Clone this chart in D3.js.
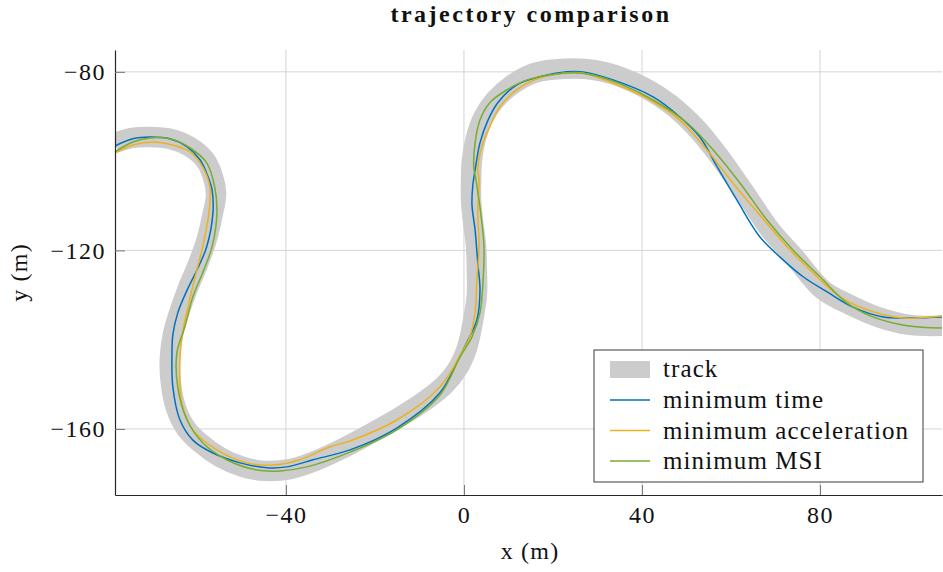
<!DOCTYPE html>
<html>
<head>
<meta charset="utf-8">
<script src="https://cdn.jsdelivr.net/npm/d3@7"></script>
<style>
  body { margin: 0; background: #fff; }
  text { font-family: "Liberation Serif", "DejaVu Serif", serif; fill: #111; }
</style>
</head>
<body>
<div id="chart"></div>
<script>
// track centre line and the three trajectories, [x, y] in metres
const track = [[-78.4,-95.9],[-74.4,-94.8],[-70.6,-94.6],[-66.1,-95.0],[-61.6,-96.8],[-58.2,-99.7],[-56.4,-103.5],[-55.7,-107.6],[-56.4,-111.6],[-57.8,-117.6],[-59.8,-123.2],[-62.0,-128.4],[-64.0,-134.0],[-65.4,-138.9],[-66.1,-144.5],[-65.8,-150.1],[-64.7,-155.3],[-62.5,-159.8],[-59.3,-163.1],[-54.8,-166.3],[-49.7,-168.5],[-44.7,-169.4],[-39.1,-169.0],[-33.5,-167.2],[-27.9,-164.7],[-21.1,-161.1],[-14.4,-157.3],[-8.8,-153.7],[-4.3,-150.1],[-1.3,-146.3],[0.7,-141.8],[2.0,-136.0],[2.9,-130.0],[2.9,-124.4],[2.7,-118.8],[2.0,-113.2],[1.6,-108.7],[1.6,-104.2],[1.8,-99.7],[2.7,-94.8],[4.3,-90.3],[7.0,-86.3],[10.8,-82.9],[16.0,-80.2],[22.7,-79.3],[29.4,-79.6],[35.1,-81.1],[40.7,-83.6],[46.3,-87.2],[51.9,-92.3],[57.1,-98.6],[63.1,-107.1],[68.8,-115.4],[74.4,-121.7],[80.7,-128.9],[86.7,-132.2],[93.5,-135.1],[100.2,-136.7],[107.6,-136.9]];

const minTime = [[-78.4,-96.6],[-74.4,-95.0],[-70.6,-94.6],[-66.1,-95.0],[-62.2,-96.8],[-59.3,-99.7],[-57.5,-103.5],[-56.6,-106.4],[-56.4,-111.6],[-57.8,-119.2],[-60.0,-124.4],[-62.2,-128.9],[-64.3,-134.0],[-65.4,-138.9],[-65.6,-143.0],[-65.4,-150.6],[-63.8,-158.0],[-60.9,-162.5],[-56.4,-165.4],[-50.3,-167.6],[-44.3,-168.7],[-39.8,-168.5],[-33.9,-166.9],[-25.6,-164.7],[-15.1,-159.8],[-5.4,-151.9],[-1.3,-144.5],[0.9,-140.1],[2.9,-135.6],[3.6,-128.9],[3.1,-122.8],[2.5,-115.4],[1.8,-109.8],[2.0,-105.3],[2.5,-102.0],[3.6,-95.9],[5.4,-90.8],[7.6,-86.9],[11.9,-82.9],[17.1,-81.1],[23.1,-80.0],[26.7,-80.0],[33.5,-81.8],[42.5,-85.6],[48.5,-90.1],[53.0,-94.6],[56.9,-101.3],[61.3,-108.7],[66.5,-117.0],[71.0,-121.5],[76.2,-125.9],[81.6,-129.3],[87.4,-132.7],[94.2,-134.9],[100.9,-135.1],[107.6,-134.9]];

const minAccel = [[-78.4,-98.2],[-74.4,-96.4],[-69.9,-95.7],[-65.4,-96.4],[-61.6,-97.9],[-58.7,-101.3],[-57.1,-105.8],[-57.3,-111.6],[-58.7,-119.2],[-60.4,-125.9],[-62.0,-132.7],[-63.1,-137.8],[-63.8,-144.5],[-63.4,-154.2],[-60.9,-160.2],[-55.5,-164.7],[-48.8,-167.6],[-42.9,-168.1],[-36.9,-166.9],[-30.1,-164.0],[-25.6,-162.7],[-15.1,-158.0],[-5.4,-150.6],[-0.4,-142.7],[1.3,-139.4],[2.5,-134.0],[2.9,-126.6],[3.4,-119.2],[3.1,-111.6],[3.4,-104.2],[3.1,-102.0],[4.0,-96.8],[5.8,-92.3],[8.1,-87.8],[11.9,-84.0],[17.1,-81.3],[21.6,-80.4],[26.1,-80.2],[33.5,-82.5],[42.5,-86.7],[48.5,-90.8],[54.6,-97.5],[60.4,-104.9],[67.0,-112.7],[72.6,-119.2],[78.4,-125.0],[84.5,-130.4],[90.6,-133.3],[98.0,-135.1],[107.6,-134.7]];

const minMSI = [[-78.4,-97.9],[-74.4,-95.7],[-70.6,-94.8],[-66.1,-95.0],[-61.6,-97.0],[-57.8,-100.4],[-56.0,-105.8],[-55.5,-111.6],[-56.6,-119.2],[-58.7,-125.0],[-60.9,-130.4],[-62.7,-137.1],[-64.5,-143.0],[-64.3,-150.6],[-62.2,-158.0],[-58.7,-163.1],[-53.3,-166.9],[-46.5,-169.2],[-41.3,-169.4],[-35.3,-168.5],[-25.6,-165.2],[-15.1,-160.2],[-5.4,-152.4],[-0.9,-143.9],[1.8,-139.4],[3.6,-134.0],[4.3,-126.6],[4.5,-119.2],[3.6,-110.3],[2.7,-104.2],[2.2,-101.3],[2.5,-95.9],[3.6,-90.8],[5.8,-86.9],[9.7,-84.0],[14.2,-81.8],[19.3,-80.7],[24.5,-80.2],[29.0,-80.7],[35.1,-82.7],[42.5,-86.3],[50.1,-91.4],[56.0,-97.5],[62.0,-104.9],[68.1,-113.2],[73.9,-119.9],[80.0,-125.9],[86.1,-131.8],[91.9,-134.9],[99.6,-136.9],[107.6,-137.4]];

const xTicks = [-40, 0, 40, 80];
const yTicks = [-160, -120, -80];
const seriesNames = ["minimum time", "minimum acceleration", "minimum MSI"];
const seriesColors = ["#0072BD", "#EDB120", "#77AC30"];

const W = 943, H = 572;
const m = { left: 115, right: 942, top: 50, bottom: 495 };

const svg = d3.select("#chart").append("svg")
  .attr("width", W).attr("height", H);

const x = d3.scaleLinear().domain([-78.4, 107.4]).range([m.left, m.right]);
const y = d3.scaleLinear().domain([-174.8, -75.1]).range([m.bottom, m.top]);

// grid
svg.append("g").selectAll("line").data(xTicks).join("line")
  .attr("x1", d => x(d)).attr("x2", d => x(d))
  .attr("y1", m.top).attr("y2", m.bottom)
  .attr("stroke", "#d4d4d4").attr("stroke-width", 1);
svg.append("g").selectAll("line").data(yTicks).join("line")
  .attr("x1", m.left).attr("x2", m.right)
  .attr("y1", d => y(d)).attr("y2", d => y(d))
  .attr("stroke", "#d4d4d4").attr("stroke-width", 1);

svg.append("clipPath").attr("id", "clip")
  .append("rect").attr("x", m.left).attr("y", m.top)
  .attr("width", m.right - m.left).attr("height", m.bottom - m.top);

const plot = svg.append("g").attr("clip-path", "url(#clip)");
const line = d3.line().x(d => x(d[0])).y(d => y(d[1]))
  .curve(d3.curveCatmullRom.alpha(0.5));

const trackWidth = x(4.6) - x(0);
plot.append("path").attr("d", line(track))
  .attr("fill", "none").attr("stroke", "#cccccc")
  .attr("stroke-width", trackWidth)
  .attr("stroke-linejoin", "round").attr("stroke-linecap", "butt");

[minTime, minAccel, minMSI].forEach((s, i) => {
  plot.append("path").attr("d", line(s))
    .attr("fill", "none").attr("stroke", seriesColors[i])
    .attr("stroke-width", 1.5);
});

// axes
const xAxis = svg.append("g").attr("transform", `translate(0,${m.bottom})`)
  .call(d3.axisBottom(x).tickValues(xTicks).tickSizeInner(-10).tickSizeOuter(0).tickPadding(11));
const yAxis = svg.append("g").attr("transform", `translate(${m.left},0)`)
  .call(d3.axisLeft(y).tickValues(yTicks).tickSizeInner(-10).tickSizeOuter(0).tickPadding(9));
[xAxis, yAxis].forEach(a => {
  a.select(".domain").attr("stroke", "#262626").attr("stroke-width", 1.2);
  a.selectAll(".tick line").attr("stroke", "#777");
  a.selectAll(".tick text").attr("font-family", "Liberation Serif, serif")
    .attr("font-size", 24).attr("letter-spacing", 1.5).attr("fill", "#111");
});

svg.append("text").attr("x", 531).attr("y", 22)
  .attr("text-anchor", "middle").attr("font-size", 24).attr("font-weight", "bold")
  .attr("letter-spacing", 2.5)
  .text("trajectory comparison");
svg.append("text").attr("x", 530).attr("y", 559)
  .attr("text-anchor", "middle").attr("font-size", 24).attr("letter-spacing", 1.2)
  .text("x (m)");
svg.append("text").attr("transform", `translate(27,${(m.top + m.bottom) / 2}) rotate(-90)`)
  .attr("text-anchor", "middle").attr("font-size", 24).attr("letter-spacing", 1.2)
  .text("y (m)");

// legend
const lg = svg.append("g").attr("transform", "translate(594,350)");
lg.append("rect").attr("width", 329).attr("height", 132)
  .attr("fill", "#fff").attr("stroke", "#3a3a3a").attr("stroke-width", 1);
lg.append("rect").attr("x", 16).attr("y", 11).attr("width", 40).attr("height", 17)
  .attr("fill", "#cccccc");
lg.append("text").attr("x", 69).attr("y", 19).attr("dy", "0.33em")
  .attr("font-size", 25).attr("letter-spacing", 1.1).text("track");
seriesNames.forEach((n, i) => {
  const cy = 50 + i * 30.5;
  lg.append("line").attr("x1", 16).attr("x2", 56).attr("y1", cy).attr("y2", cy)
    .attr("stroke", seriesColors[i]).attr("stroke-width", 1.5);
  lg.append("text").attr("x", 69).attr("y", cy).attr("dy", "0.33em")
    .attr("font-size", 25).attr("letter-spacing", 1.1).text(n);
});
</script>
</body>
</html>
